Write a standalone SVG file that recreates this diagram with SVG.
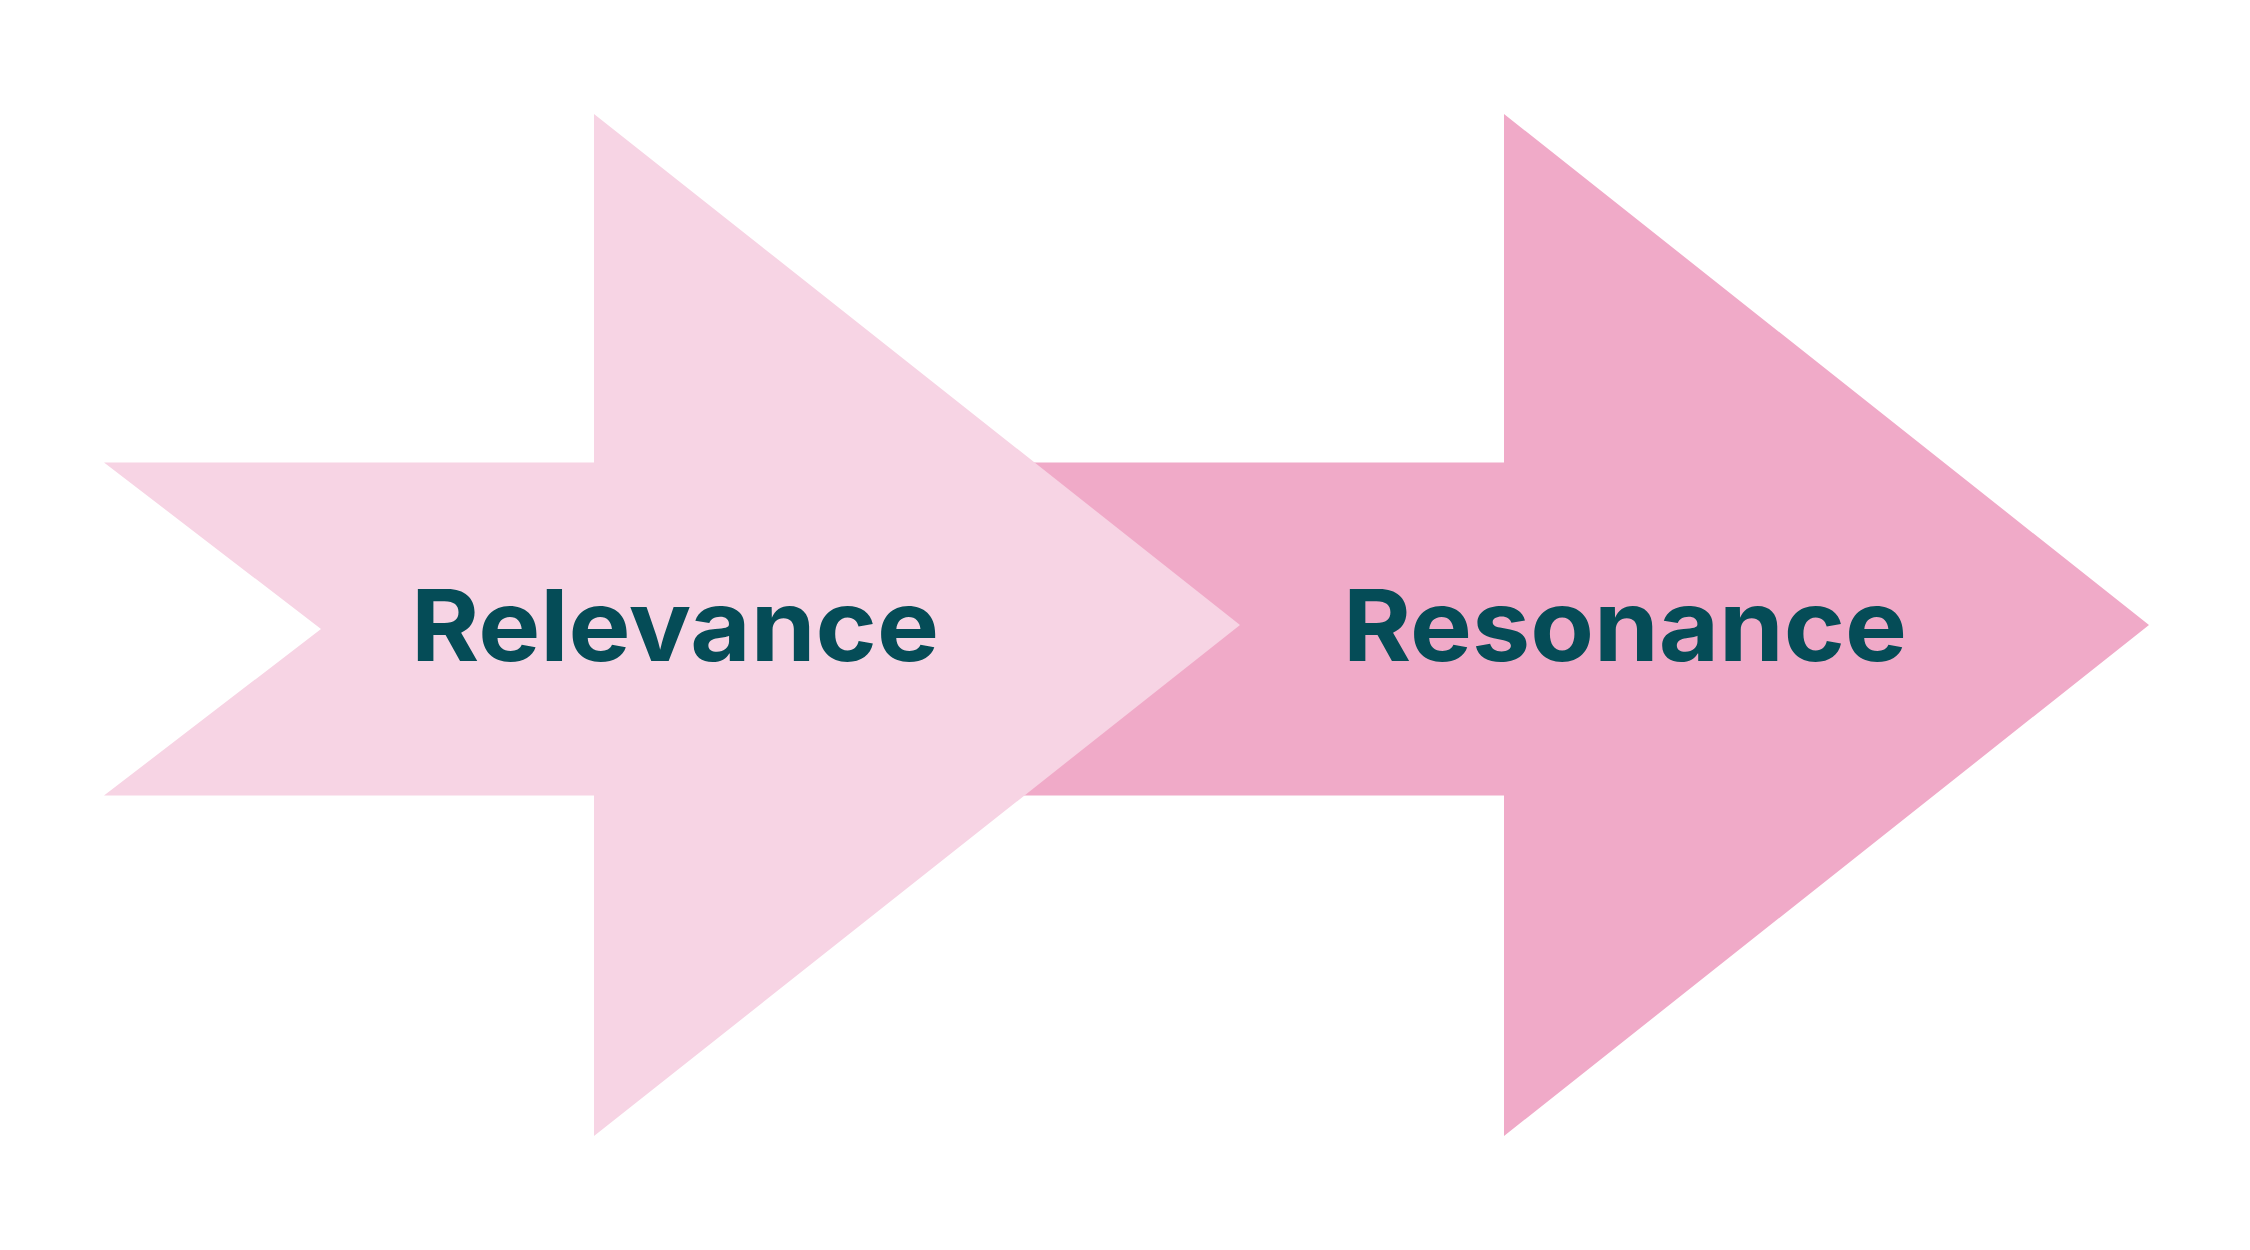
<svg xmlns="http://www.w3.org/2000/svg" width="2250" height="1250" viewBox="0 0 2250 1250">
<style>
.lbl{font-family:"Inter","Open Sans","DejaVu Sans",sans-serif;font-weight:700;font-size:99px;fill:#054C57}
</style>
<rect x="0" y="0" width="2250" height="1250" fill="#FFFFFF"/>
<g id="connectors"></g>
<g id="resonance">
<polygon points="900,462.5 1504,462.5 1504,114 2149,625 1504,1136 1504,795.5 900,795.5" fill="#F0AAC8"/>
<text class="lbl" x="1343" y="661" textLength="564" lengthAdjust="spacingAndGlyphs">Resonance</text>
</g>
<g id="relevance">
<polygon points="104,462.5 594,462.5 594,114 1240,625 594,1136 594,795.5 104,795.5 321,629" fill="#F7D4E4"/>
<text class="lbl" x="411" y="661" textLength="528" lengthAdjust="spacingAndGlyphs">Relevance</text>
</g>
</svg>
